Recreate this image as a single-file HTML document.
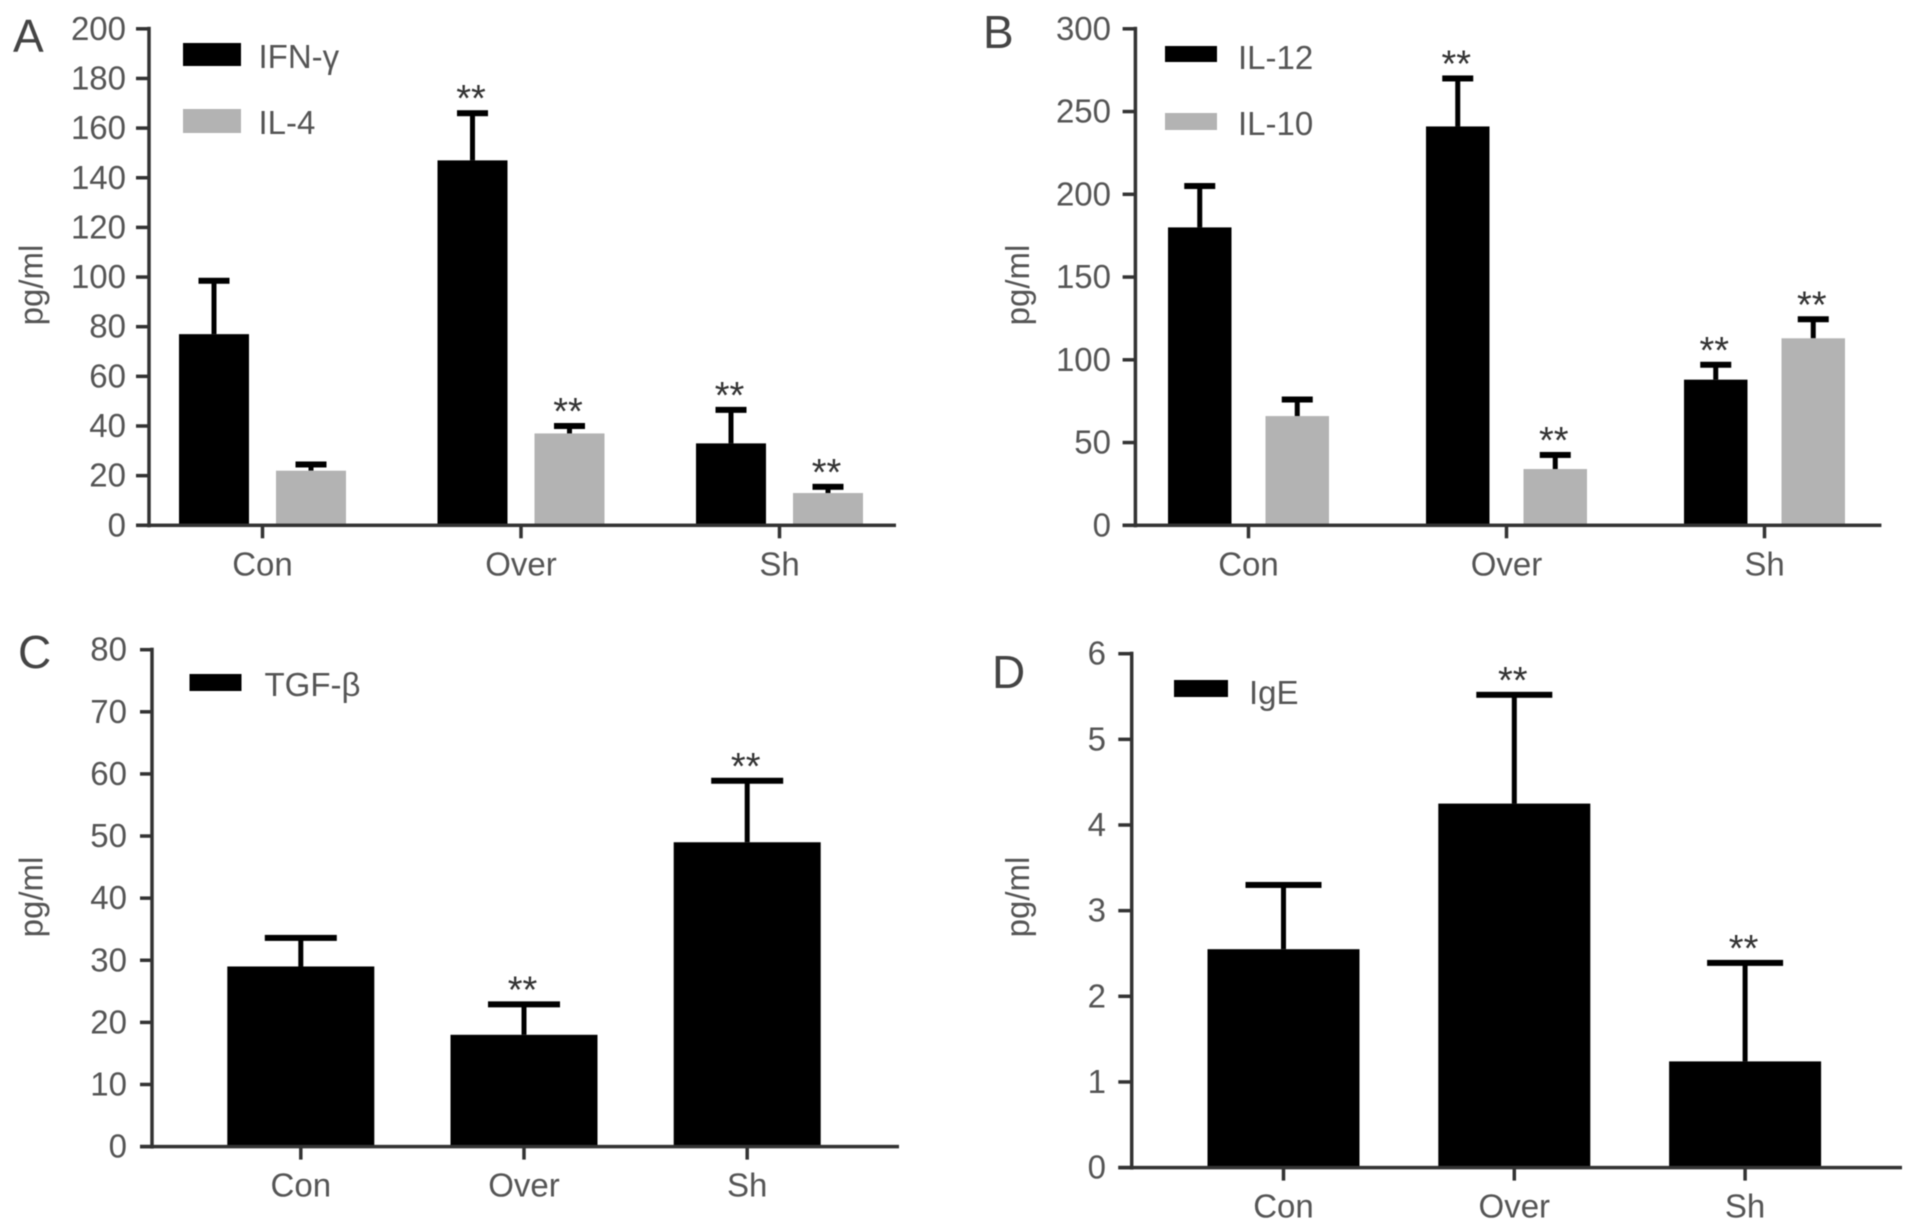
<!DOCTYPE html>
<html lang="en">
<head>
<meta charset="utf-8">
<title>Cytokine levels by group</title>
<style>
  html, body { margin: 0; padding: 0; background: #fff; width: 1913px; height: 1232px; overflow: hidden; }
  svg { display: block; filter: blur(0.6px); }
  text { font-family: "Liberation Sans", sans-serif; fill: #555; font-size: 33px; }
  .letter { font-size: 46px; fill: #444; }
  .star { font-size: 38px; fill: #333; text-anchor: middle; }
</style>
</head>
<body>
<svg id="figure" width="1913" height="1232" viewBox="0 0 1913 1232" xmlns="http://www.w3.org/2000/svg">
  <rect width="1913" height="1232" fill="#fff"/>

  <g id="panel-a">
    <text class="letter" x="13" y="52">A</text>
    <text transform="translate(42.500,285) rotate(-90)" text-anchor="middle">pg/ml</text>
    <rect x="183" y="43" width="58" height="23" fill="#000"/>
    <text x="258.500" y="68">IFN-γ</text>
    <rect x="183" y="109" width="58" height="24" fill="#b3b3b3"/>
    <text x="258.500" y="134">IL-4</text>
  </g>

  <g id="panel-b">
    <text class="letter" x="983" y="48">B</text>
    <text transform="translate(1029,285) rotate(-90)" text-anchor="middle">pg/ml</text>
    <rect x="1165" y="46" width="52" height="16" fill="#000"/>
    <text x="1238" y="69">IL-12</text>
    <rect x="1165" y="113" width="52" height="17" fill="#b3b3b3"/>
    <text x="1238" y="135">IL-10</text>
  </g>

  <g id="panel-c">
    <text class="letter" x="18" y="668">C</text>
    <text transform="translate(42.500,897) rotate(-90)" text-anchor="middle">pg/ml</text>
    <rect x="189.500" y="674" width="52" height="17" fill="#000"/>
    <text x="264.500" y="696">TGF-β</text>
  </g>

  <g id="panel-d">
    <text class="letter" x="992" y="688">D</text>
    <text transform="translate(1029,897) rotate(-90)" text-anchor="middle">pg/ml</text>
    <rect x="1174" y="680" width="54" height="17" fill="#000"/>
    <text x="1249" y="704">IgE</text>
  </g>
</svg>

<script>
/* ---------- chart data ---------- */
const categories = ['Con', 'Over', 'Sh'];

const panelATicks = [0, 20, 40, 60, 80, 100, 120, 140, 160, 180, 200];
const ifnGammaMeans = [77, 147, 33];
const ifnGammaErrorTops = [98.5, 166, 46.5];
const ifnGammaStars = [false, true, true];
const il4Means = [22, 37, 13];
const il4ErrorTops = [24.5, 40, 15.5];
const il4Stars = [false, true, true];

const panelBTicks = [0, 50, 100, 150, 200, 250, 300];
const il12Means = [180, 241, 88];
const il12ErrorTops = [205, 270, 97];
const il12Stars = [false, true, true];
const il10Means = [66, 34, 113];
const il10ErrorTops = [76, 42.5, 124.5];
const il10Stars = [false, true, true];

const panelCTicks = [0, 10, 20, 30, 40, 50, 60, 70, 80];
const tgfBetaMeans = [29, 18, 49];
const tgfBetaErrorTops = [33.6, 22.9, 58.9];
const tgfBetaStars = [false, true, true];

const panelDTicks = [0, 1, 2, 3, 4, 5, 6];
const igeMeans = [2.55, 4.25, 1.24];
const igeErrorTops = [3.3, 5.52, 2.39];
const igeStars = [false, true, true];

/* ---------- drawing ---------- */
const SVG_NS = 'http://www.w3.org/2000/svg';
const AXIS_COLOR = '#333';
const BLACK = '#000';
const GRAY = '#b3b3b3';

function make(parent, tag, attrs) {
  const el = document.createElementNS(SVG_NS, tag);
  Object.keys(attrs).forEach(function (k) { el.setAttribute(k, attrs[k]); });
  parent.appendChild(el);
  return el;
}

function drawPanel(p) {
  const g = document.getElementById(p.id);
  const yMax = p.ticks[p.ticks.length - 1];
  const yScale = function (v) { return p.baseY - (v / yMax) * (p.baseY - p.topY); };
  const groupX = function (i) { return p.firstX + i * p.stepX; };

  /* series: bars, error bars, stars */
  p.series.forEach(function (s) {
    s.means.forEach(function (m, i) {
      const cx = groupX(i) + s.offset;
      const top = yScale(m);
      const errY = yScale(s.errors[i]);

      const stem = make(g, 'rect', { x: cx - 2.5, y: errY, width: 5, height: Math.max(0, top - errY), fill: BLACK });
      
      

      const cap = make(g, 'rect', { x: cx - p.capW / 2, y: errY - 3, width: p.capW, height: 6, fill: BLACK });
      
      

      const bar = make(g, 'rect', { x: cx - p.barW / 2, y: top, width: p.barW, height: p.baseY - top, fill: s.color });
      
      

      if (s.stars[i]) {
        const star = make(g, 'text', { x: cx - 1.5, y: errY - 24 + 22, class: 'star' });
        star.textContent = '**';
        
        
      }
    });
  });

  /* y axis */
  const yAxis = make(g, 'rect', { x: p.axisX - 1.75, y: p.topY - 2, width: 3.5, height: p.baseY - p.topY + 4, fill: AXIS_COLOR });
  
  

  p.ticks.forEach(function (t) {
    const y = yScale(t);
    const tick = make(g, 'rect', { x: p.xAxisStart, y: y - 1.75, width: p.axisX - p.xAxisStart, height: 3.5, fill: AXIS_COLOR });
    
    

    const label = make(g, 'text', { x: p.labelRight, y: y + 11, 'text-anchor': 'end' });
    label.textContent = String(t);
    
    
  });

  /* x axis */
  const xAxis = make(g, 'rect', { x: p.xAxisStart, y: p.baseY - 1.75, width: p.xAxisEnd - p.xAxisStart, height: 3.5, fill: AXIS_COLOR });
  
  

  categories.forEach(function (c, i) {
    const x = groupX(i);
    const tick = make(g, 'rect', { x: x - 1.75, y: p.baseY, width: 3.5, height: 13, fill: AXIS_COLOR });
    
    

    const label = make(g, 'text', { x: x, y: p.baseY + 50, 'text-anchor': 'middle' });
    label.textContent = c;
    
    
  });
}

drawPanel({
  id: 'panel-a', name: 'panel-a', ticks: panelATicks,
  axisX: 149, xAxisStart: 136, xAxisEnd: 896, topY: 28.8, baseY: 525.3, labelRight: 126,
  firstX: 262.5, stepX: 258.5, barW: 70, capW: 31,
  series: [
    { key: 'ifn-gamma', means: ifnGammaMeans, errors: ifnGammaErrorTops, stars: ifnGammaStars, color: BLACK, offset: -48.5 },
    { key: 'il-4', means: il4Means, errors: il4ErrorTops, stars: il4Stars, color: GRAY, offset: 48.5 }
  ]
});

drawPanel({
  id: 'panel-b', name: 'panel-b', ticks: panelBTicks,
  axisX: 1135.4, xAxisStart: 1122.6, xAxisEnd: 1881.4, topY: 28.8, baseY: 525.3, labelRight: 1111,
  firstX: 1248.5, stepX: 258, barW: 63.5, capW: 31,
  series: [
    { key: 'il-12', means: il12Means, errors: il12ErrorTops, stars: il12Stars, color: BLACK, offset: -48.75 },
    { key: 'il-10', means: il10Means, errors: il10ErrorTops, stars: il10Stars, color: GRAY, offset: 48.75 }
  ]
});

drawPanel({
  id: 'panel-c', name: 'panel-c', ticks: panelCTicks,
  axisX: 152, xAxisStart: 140, xAxisEnd: 899, topY: 649.7, baseY: 1146.6, labelRight: 127,
  firstX: 300.8, stepX: 223.2, barW: 147, capW: 72,
  series: [
    { key: 'tgf-beta', means: tgfBetaMeans, errors: tgfBetaErrorTops, stars: tgfBetaStars, color: BLACK, offset: 0 }
  ]
});

drawPanel({
  id: 'panel-d', name: 'panel-d', ticks: panelDTicks,
  axisX: 1131.7, xAxisStart: 1118.3, xAxisEnd: 1902, topY: 653.7, baseY: 1167.6, labelRight: 1106,
  firstX: 1283.5, stepX: 230.8, barW: 152, capW: 76,
  series: [
    { key: 'ige', means: igeMeans, errors: igeErrorTops, stars: igeStars, color: BLACK, offset: 0 }
  ]
});
</script>
</body>
</html>
